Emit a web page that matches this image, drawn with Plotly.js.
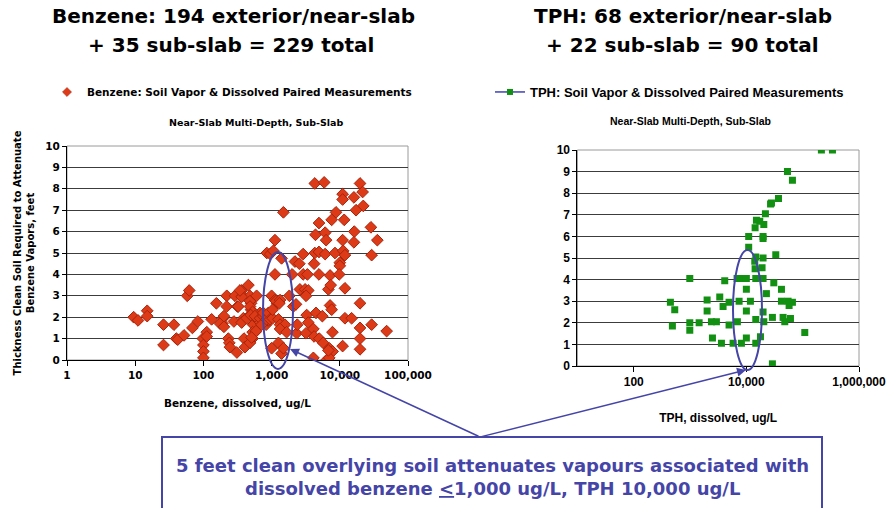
<!DOCTYPE html>
<html>
<head>
<meta charset="utf-8">
<script src="https://cdn.plot.ly/plotly-3.0.1.min.js"></script>
<style>
  html, body { margin: 0; padding: 0; background: #fff; }
  #chart { width: 888px; height: 508px; }
</style>
</head>
<body>
<div id="chart"></div>
<script>
// Benzene paired measurements: dissolved concentration (ug/L) and the thickness
// of clean soil (feet) needed to attenuate the vapours.
const benzeneDissolved = [
  9.5, 11, 15, 15, 26, 37, 26, 40, 42, 52, 69, 83, 58, 62, 98, 100, 100, 100, 112, 112,
  132, 155, 195, 190, 220, 220, 232, 240, 245, 280, 290, 316, 310, 175, 200, 200,
  363, 376, 385, 394, 407, 457, 479, 500, 500, 519, 537, 575, 525, 603, 638, 676, 776, 832, 891,
  1000, 851, 955, 1120, 1000, 1120, 1190,
  325, 364, 364, 431, 482, 482, 482, 527, 527, 590, 509, 493, 570, 676, 714, 755, 755, 845, 895, 946,
  1035, 1035, 344,
  4300, 5900, 19800, 21600, 11000, 11000, 16100, 22100, 17300, 1490, 8800, 7600, 11600, 4950,
  16300, 28600, 4400, 6100, 6300, 11000, 16100, 35500, 1120, 1060, 1400, 2900, 4300, 4950,
  6100, 8500, 11200, 11900, 29300, 2200, 2550, 4200, 10000, 10000, 2000, 2900, 3350, 4950,
  7200, 9800, 6800, 7350, 11900, 2600, 3100, 3450, 3200, 1820, 1160, 1330, 1300, 2080, 2280,
  1260, 1330, 1570, 1330, 1660, 2330, 2380, 3270, 3450, 4480, 5550, 7200, 7600, 11900, 14900,
  19800, 19800, 29300, 48600, 3200, 4100, 4200, 5000, 5700, 7000, 7800, 7850, 11000, 19800,
  19800, 4100, 6400, 7000, 6800, 1260, 1400, 1490
];
const benzeneThickness = [
  2.0, 1.85, 2.3, 2.05, 1.65, 1.65, 0.7, 1.0, 0.95, 1.15, 1.5, 1.8, 3.0, 3.25, 1.0, 0.7, 0.4, 0.1, 1.3, 1.1,
  1.9, 2.65, 1.95, 1.7, 3.0, 2.5, 1.0, 0.8, 0.6, 1.8, 3.0, 2.5, 0.35, 1.7, 1.55, 2.05,
  3.25, 3.0, 1.95, 1.0, 0.6, 3.5, 3.0, 2.65, 2.35, 2.1, 1.65, 1.3, 1.0, 3.0, 1.85, 2.2, 1.95, 1.65, 1.85,
  0.55, 5.0, 4.95, 4.0, 3.0, 2.8, 2.65,
  2.5, 1.75, 2.95, 1.95, 0.8, 2.75, 2.5, 2.25, 1.3, 1.35, 1.05, 2.1, 2.05, 1.95, 1.65, 2.05, 2.2, 1.9, 2.2, 1.9,
  1.95, 2.35, 3.25,
  8.25, 8.3, 8.25, 7.85, 7.75, 7.5, 7.6, 7.2, 7.0, 6.9, 6.9, 6.55, 6.55, 6.4,
  6.0, 6.2, 5.85, 5.95, 5.6, 5.6, 5.5, 5.6, 5.6, 5.1, 4.75, 4.95, 5.0, 5.05,
  4.95, 5.0, 5.1, 4.9, 4.9, 4.6, 4.5, 4.5, 4.55, 4.4, 4.0, 4.0, 4.0, 4.0,
  3.95, 4.0, 3.3, 3.5, 3.35, 3.3, 3.3, 3.25, 3.0, 3.0, 2.75, 2.8, 2.65, 2.5, 2.6,
  1.9, 1.65, 1.65, 1.45, 1.3, 1.25, 1.65, 2.1, 1.75, 2.2, 2.05, 2.55, 2.35, 1.95, 1.95,
  2.65, 1.5, 1.65, 1.35, 1.25, 1.45, 1.1, 1.0, 0.8, 0.55, 1.3, 0.4, 0.65, 1.0,
  0.5, 0.1, 0.0, 0.1, 0.45, 0.8, 0.3, 0.55
];

// TPH paired measurements: dissolved concentration (ug/L) and soil thickness (feet).
const tphDissolved = [
  215000, 338000, 53700, 65800, 37200, 27900, 26900, 21800, 15100, 17300, 20400, 14300,
  11000, 19800, 19800, 11000, 14700, 19800, 33300, 14100, 14300, 19000, 6840, 8170, 10000,
  14700, 19800, 990, 4130, 30700, 42000, 10000, 22700, 3370, 2010, 4930, 7430, 11800, 42000,
  55100, 65800, 57400, 448, 535, 486, 2010, 3860, 10000, 19800, 990, 990, 1450, 2400, 2940,
  4930, 6930, 14700, 20400, 29000, 44900, 60700, 48100, 108900, 2500, 3610, 5810, 8170,
  10000, 14700, 17800, 29000
];
const tphThickness = [
  10, 10, 9.0, 8.6, 7.75, 7.55, 7.5, 7.05, 6.75, 6.7, 6.55, 6.4,
  6.0, 6.0, 5.9, 5.5, 5.05, 5.0, 5.15, 4.85, 4.5, 4.55, 4.05, 4.05, 4.05,
  4.05, 4.05, 4.05, 3.95, 3.85, 3.55, 3.55, 3.35, 3.2, 3.05, 2.95, 3.0, 3.0, 3.0,
  3.0, 2.95, 2.8, 2.95, 2.6, 1.85, 2.55, 2.75, 2.55, 2.5, 2.0, 1.65, 2.0, 2.05, 2.05,
  1.9, 2.05, 2.15, 2.05, 2.25, 2.25, 2.2, 2.05, 1.55, 1.3, 1.05, 1.05, 1.05,
  1.3, 1.05, 1.35, 0.1
];

// Axis ticks and labels
const benzeneTickVals = [1, 10, 100, 1000, 10000, 100000];
const benzeneTickText = ['1', '10', '100', '1,000', '10,000', '100,000'];
const tphTickVals = [100, 10000, 1000000];
const tphTickText = ['100', '10,000', '1,000,000'];
const thicknessTicks = [0, 1, 2, 3, 4, 5, 6, 7, 8, 9, 10];

// Text
const benzeneTitle = ['Benzene: 194 exterior/near-slab', '+ 35 sub-slab = 229 total'];
const tphTitle = ['TPH: 68 exterior/near-slab', '+ 22 sub-slab = 90 total'];
const benzeneSeries = 'Benzene: Soil Vapor & Dissolved Paired Measurements';
const tphSeries = 'TPH: Soil Vapor & Dissolved Paired Measurements';
const subTitle = 'Near-Slab Multi-Depth, Sub-Slab';
const calloutLines = [
  '5 feet clean overlying soil attenuates vapours associated with',
  'dissolved benzene <u>&lt;</u>1,000 ug/L, TPH 10,000 ug/L'
];

// ---- pixel helpers (page is 888 x 508) ----
const W = 888, H = 508;
const px = x => x / W;
const py = y => 1 - y / H;

const VER = 'DejaVu Sans';
const ARI = 'Liberation Sans, Arial';
const BLUE = '#4545a8';
const RED = '#dd3a18', RED_EDGE = '#a8240c';
const GREEN = '#129012';

const traces = [
  {
    x: benzeneDissolved, y: benzeneThickness, type: 'scatter', mode: 'markers',
    name: benzeneSeries, xaxis: 'x', yaxis: 'y', showlegend: false,
    marker: { symbol: 'diamond', size: 9, color: RED, line: { color: RED_EDGE, width: 1 } },
    hoverinfo: 'x+y'
  },
  {
    // legend key for the benzene series
    x: [null], y: [null], type: 'scatter', mode: 'markers',
    name: benzeneSeries, xaxis: 'x', yaxis: 'y', legend: 'legend',
    marker: { symbol: 'diamond', size: 7, color: RED, line: { color: RED_EDGE, width: 0.5 } }
  },
  {
    x: tphDissolved, y: tphThickness, type: 'scatter', mode: 'markers',
    name: tphSeries, xaxis: 'x2', yaxis: 'y2', showlegend: false,
    marker: { symbol: 'square', size: 7, color: GREEN, line: { width: 0 } },
    hoverinfo: 'x+y'
  },
  {
    // legend key for the TPH series (line with square marker)
    x: [null], y: [null], type: 'scatter', mode: 'lines+markers',
    name: tphSeries, xaxis: 'x2', yaxis: 'y2', legend: 'legend2',
    line: { color: '#4040b8', width: 1.5 },
    marker: { symbol: 'square', size: 6, color: GREEN }
  }
];

const gridStyle = { showgrid: true, gridcolor: '#3c3c3c', gridwidth: 1, zeroline: false };

function note(text, x, y, family, size, color) {
  return { text: text, x: px(x), y: py(y), xref: 'paper', yref: 'paper',
           xanchor: 'center', yanchor: 'middle', showarrow: false,
           font: { family: family, size: size, color: color || '#000', weight: 'bold' } };
}

const layout = {
  width: W, height: H,
  margin: { l: 0, r: 0, t: 0, b: 0 },
  paper_bgcolor: '#fff', plot_bgcolor: '#fff',
  showlegend: true,
  xaxis: {
    type: 'log', range: [0, 5], domain: [px(67), px(408)], anchor: 'y',
    tickvals: benzeneTickVals, ticktext: benzeneTickText,
    ticks: 'outside', ticklen: 5, tickcolor: '#000', tickwidth: 1,
    showline: true, linecolor: '#000', linewidth: 1, showgrid: false, zeroline: false,
    tickfont: { family: VER, size: 10.5, color: '#000', weight: 'bold' },
    title: { text: 'Benzene, dissolved, ug/L', standoff: 20,
             font: { family: VER, size: 10.5, color: '#000', weight: 'bold' } }
  },
  yaxis: Object.assign({
    range: [0, 10], domain: [py(360), py(146)], anchor: 'x',
    tickvals: thicknessTicks,
    ticks: 'outside', ticklen: 4, tickcolor: '#000',
    showline: true, linecolor: '#000', linewidth: 1,
    tickfont: { family: VER, size: 10.5, color: '#000', weight: 'bold' },
    title: { text: 'Thickness Clean Soil Required to Attenuate<br>Benzene Vapors, feet', standoff: 8,
             font: { family: VER, size: 10, color: '#000', weight: 'bold' } }
  }, gridStyle),
  xaxis2: {
    type: 'log', range: [1, 6], domain: [px(577.4), px(859)], anchor: 'y2',
    tickvals: tphTickVals, ticktext: tphTickText,
    ticks: 'outside', ticklen: 5, tickcolor: '#000',
    showline: true, linecolor: '#000', linewidth: 1, showgrid: false, zeroline: false,
    tickfont: { family: ARI, size: 12, color: '#000', weight: 'bold' },
    title: { text: 'TPH, dissolved, ug/L', standoff: 25,
             font: { family: ARI, size: 12, color: '#000', weight: 'bold' } }
  },
  yaxis2: Object.assign({
    range: [0, 10], domain: [py(366), py(150)], anchor: 'x2',
    tickvals: thicknessTicks,
    ticks: 'outside', ticklen: 4, tickcolor: '#000',
    showline: true, linecolor: '#000', linewidth: 1,
    tickfont: { family: ARI, size: 12, color: '#000', weight: 'bold' }
  }, gridStyle),
  legend: {
    x: px(47), y: py(92), xanchor: 'left', yanchor: 'middle',
    bgcolor: 'rgba(0,0,0,0)', borderwidth: 0,
    font: { family: VER, size: 10.5, color: '#000', weight: 'bold' }
  },
  legend2: {
    x: px(490), y: py(92), xanchor: 'left', yanchor: 'middle',
    bgcolor: 'rgba(0,0,0,0)', borderwidth: 0,
    font: { family: ARI, size: 13, color: '#000', weight: 'bold' }
  },
  shapes: [
    // plot-area frames
    { type: 'rect', xref: 'x domain', yref: 'y domain', x0: 0, x1: 1, y0: 0, y1: 1,
      line: { color: '#9a9a9a', width: 1 }, layer: 'below' },
    { type: 'rect', xref: 'x2 domain', yref: 'y2 domain', x0: 0, x1: 1, y0: 0, y1: 1,
      line: { color: '#9a9a9a', width: 1 }, layer: 'below' },
    // highlighted ranges
    { type: 'circle', xref: 'paper', yref: 'paper',
      x0: px(263), x1: px(293), y0: py(369), y1: py(252),
      line: { color: BLUE, width: 2 } },
    { type: 'circle', xref: 'paper', yref: 'paper',
      x0: px(733), x1: px(762), y0: py(370), y1: py(250),
      line: { color: BLUE, width: 2 } },
    // callout box
    { type: 'rect', xref: 'paper', yref: 'paper',
      x0: px(162), x1: px(822), y0: py(530), y1: py(437),
      line: { color: BLUE, width: 2 }, fillcolor: '#fff' }
  ],
  annotations: [
    note(benzeneTitle[0], 234, 16, VER, 20),
    note(benzeneTitle[1], 231, 45, VER, 20),
    note(tphTitle[0], 683, 16, VER, 20),
    note(tphTitle[1], 682, 45, VER, 20),
    note(subTitle, 256, 122, VER, 9.5),
    note(subTitle, 690, 121, ARI, 10.5),
    // arrows from the callout to the circled ranges
    { text: '', x: px(290), y: py(349), xref: 'paper', yref: 'paper', showarrow: true,
      ax: 480 - 290, ay: 437 - 349, arrowhead: 2, arrowsize: 1.2, arrowwidth: 1.5, arrowcolor: BLUE, standoff: 0 },
    { text: '', x: px(746), y: py(370), xref: 'paper', yref: 'paper', showarrow: true,
      ax: 480 - 746, ay: 437 - 370, arrowhead: 2, arrowsize: 1.2, arrowwidth: 1.5, arrowcolor: BLUE, standoff: 0 },
    note(calloutLines[0], 492, 465, VER, 18, BLUE),
    note(calloutLines[1], 492, 488, VER, 18, BLUE)
  ]
};

Plotly.newPlot('chart', traces, layout, { staticPlot: true, displayModeBar: false });
</script>
</body>
</html>
